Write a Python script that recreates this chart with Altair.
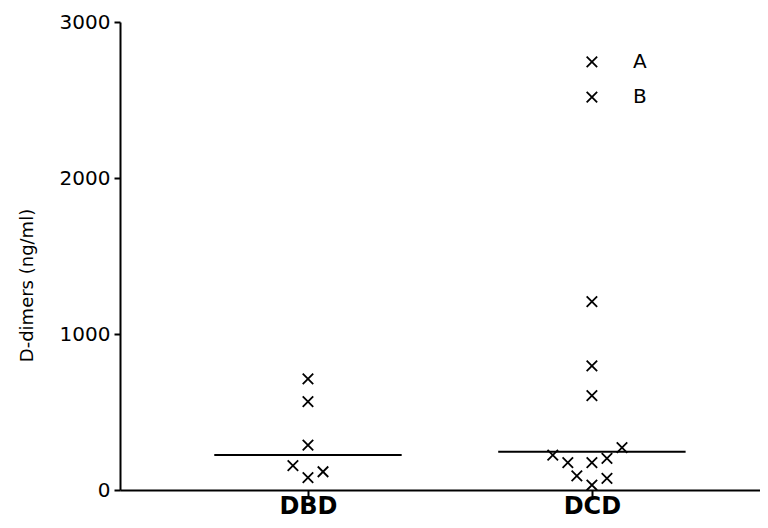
import altair as alt
import pandas as pd

groups = ["DBD", "DCD"]
dbd_values = [712, 566, 288, 156, 117, 79]
dbd_jitter = [0, 0, 0, -1, 1, 0]
dcd_values = [2744, 2519, 1207, 795, 605, 271, 224, 175, 175, 203, 90, 75, 32]
dcd_jitter = [0, 0, 0, 0, 0, 2, -2.6, -1.6, 0, 1, -1, 1, 0]
medians = [224, 245]
outlier_labels = ["A", "B"]
y_ticks = [0, 1000, 2000, 3000]

JIT = 0.053
HALF = 0.33

rows = []
for v, j in zip(dbd_values, dbd_jitter):
    rows.append({"group": groups[0], "x": 1 + j * JIT, "value": v, "label": ""})
for i, (v, j) in enumerate(zip(dcd_values, dcd_jitter)):
    lab = outlier_labels[i] if i < len(outlier_labels) else ""
    rows.append({"group": groups[1], "x": 2 + j * JIT, "value": v, "label": lab})
pts = pd.DataFrame(rows)

med = pd.DataFrame({
    "group": groups,
    "x": [i + 1 - HALF for i in range(len(groups))],
    "x2": [i + 1 + HALF for i in range(len(groups))],
    "median": medians,
})

label_expr = " : ".join(
    [f"datum.value == {i+1} ? '{g}'" for i, g in enumerate(groups[:-1])] + [f"'{groups[-1]}'"]
)

xscale = alt.Scale(domain=[0.338, 2.592], nice=False, zero=False)
yscale = alt.Scale(domain=[0, 3000], nice=False)

xaxis = alt.Axis(values=[1, 2], labelExpr=label_expr, title=None, grid=False,
                 labelFont="DejaVu Sans", labelFontWeight="bold", labelFontSize=24,
                 labelColor="black", labelBaseline="alphabetic", labelPadding=16,
                 tickSize=7, tickWidth=2,
                 tickColor="black", domainColor="black", domainWidth=2)
yaxis = alt.Axis(values=y_ticks, format="d", title="D-dimers (ng/ml)", grid=False,
                 labelFont="DejaVu Sans", labelFontSize=20, labelColor="black",
                 labelPadding=4, tickSize=6, tickWidth=2, tickColor="black",
                 domainColor="black", domainWidth=2,
                 titleFont="DejaVu Sans", titleFontSize=18, titleFontWeight="normal",
                 titleColor="black", titleAngle=-90, titleX=-93, titleY=263,
                 titleAlign="center", titleBaseline="middle")

points = alt.Chart(pts).mark_point(
    shape="M-1,-1L1,1M-1,1L1,-1", size=110, filled=False, stroke="black",
    strokeWidth=1.8, opacity=1
).encode(
    x=alt.X("x:Q", scale=xscale, axis=xaxis),
    y=alt.Y("value:Q", scale=yscale, axis=yaxis),
)

rules = alt.Chart(med).mark_rule(color="black", strokeWidth=2).encode(
    x=alt.X("x:Q", scale=xscale),
    x2="x2:Q",
    y=alt.Y("median:Q", scale=yscale),
)

texts = alt.Chart(pts[pts["label"] != ""]).mark_text(
    font="DejaVu Sans", fontSize=20, color="black", align="center",
    baseline="middle", dx=48
).encode(
    x=alt.X("x:Q", scale=xscale),
    y=alt.Y("value:Q", scale=yscale),
    text="label:N",
)

chart = alt.layer(points, rules, texts).properties(
    width=640, height=468,
    padding={"left": 112, "top": 14, "right": 0, "bottom": 30},
    autosize="none",
).configure_view(stroke=None)

chart.save("out.html", embed_options={"renderer": "svg", "actions": False})
